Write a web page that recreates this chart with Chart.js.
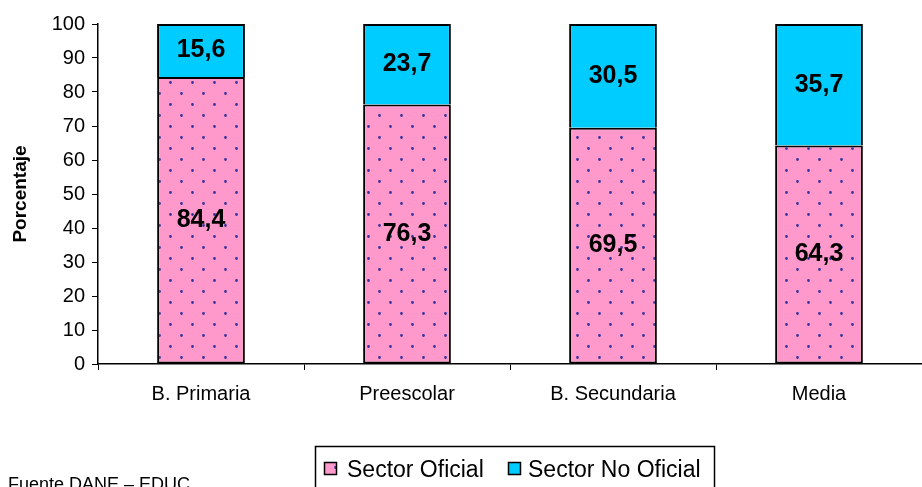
<!DOCTYPE html>
<html>
<head>
<meta charset="utf-8">
<script src="https://cdn.jsdelivr.net/npm/chart.js@4/dist/chart.umd.min.js"></script>
<style>
  body { margin: 0; background: #fff; }
  canvas { display: block; }
</style>
</head>
<body>
<canvas id="myChart" width="922" height="487"></canvas>
<script>
const categories = ['B. Primaria', 'Preescolar', 'B. Secundaria', 'Media']
const sectorOficial = [84.4, 76.3, 69.5, 64.3]
const sectorNoOficial = [15.6, 23.7, 30.5, 35.7]
const seriesNames = ['Sector Oficial', 'Sector No Oficial']
const yMin = 0
const yMax = 100
const yStep = 10

const FONT = '"Liberation Sans", Arial, sans-serif'
const PINK = '#FF99CC'
const CYAN = '#00CCFF'

// dotted pink fill like the excel pattern
function dotPattern (ctx) {
  const c = document.createElement('canvas')
  c.width = 22
  c.height = 22
  const p = c.getContext('2d')
  p.fillStyle = PINK
  p.fillRect(0, 0, 22, 22)
  p.fillStyle = '#333399'
  p.beginPath()
  p.arc(5.5, 5.5, 1.4, 0, Math.PI * 2)
  p.arc(16.5, 16.5, 1.4, 0, Math.PI * 2)
  p.fill()
  return ctx.createPattern(c, 'repeat')
}

const ctx = document.getElementById('myChart').getContext('2d')
const pinkDots = dotPattern(ctx)

const valueLabels = {
  id: 'valueLabels',
  afterDatasetsDraw (chart) {
    const c = chart.ctx
    c.save()
    c.font = 'bold 25px ' + FONT
    c.fillStyle = '#000'
    c.textAlign = 'center'
    c.textBaseline = 'middle'
    chart.data.datasets.forEach((ds, i) => {
      chart.getDatasetMeta(i).data.forEach((bar, j) => {
        const txt = ds.data[j].toFixed(1).replace('.', ',')
        c.fillText(txt, bar.x, (bar.y + bar.base) / 2)
      })
    })
    c.restore()
  }
}

const legendAndSource = {
  id: 'legendAndSource',
  afterDraw (chart) {
    const c = chart.ctx
    c.save()
    // legend box (cut off at bottom like the original)
    c.strokeStyle = '#000'
    c.lineWidth = 1.5
    c.strokeRect(315.5, 446.5, 399, 60)
    c.font = '23px ' + FONT
    c.textBaseline = 'alphabetic'
    const items = [
      { x: 324, tx: 347, fill: pinkDots, text: seriesNames[0] },
      { x: 508, tx: 528, fill: CYAN, text: seriesNames[1] }
    ]
    items.forEach(it => {
      c.fillStyle = it.fill
      c.fillRect(it.x, 462, 12, 12)
      c.lineWidth = 1.5
      c.strokeRect(it.x + 0.5, 462.5, 12, 12)
      c.fillStyle = '#000'
      c.fillText(it.text, it.tx, 477)
    })
    // source note
    c.font = '18px ' + FONT
    c.fillText('Fuente DANE \u2013 EDUC', 8, 490)
    c.restore()
  }
}

new Chart(ctx, {
  type: 'bar',
  data: {
    labels: categories,
    datasets: [
      {
        label: seriesNames[0],
        data: sectorOficial,
        backgroundColor: pinkDots,
        borderColor: '#000',
        borderWidth: 2,
        borderSkipped: false
      },
      {
        label: seriesNames[1],
        data: sectorNoOficial,
        backgroundColor: CYAN,
        borderColor: '#000',
        borderWidth: 2,
        borderSkipped: 'start'
      }
    ]
  },
  options: {
    responsive: false,
    animation: false,
    layout: { padding: { top: 24, right: 0, left: 0, bottom: 0 } },
    datasets: {
      bar: { categoryPercentage: 1, barPercentage: 0.426 }
    },
    plugins: {
      legend: { display: false },
      tooltip: { enabled: false }
    },
    scales: {
      x: {
        stacked: true,
        afterFit: s => { s.height = 123 },
        border: { color: '#000', width: 1.5 },
        grid: { drawOnChartArea: false, color: '#000', tickLength: 6, offset: true },
        ticks: { color: '#000', font: { family: FONT, size: 20 }, padding: 12 }
      },
      y: {
        stacked: true,
        min: yMin,
        max: yMax,
        afterFit: s => { s.width = 98 },
        border: { color: '#000', width: 1.5 },
        grid: { drawOnChartArea: false, color: '#000', tickLength: 6 },
        ticks: { stepSize: yStep, color: '#000', font: { family: FONT, size: 20 }, padding: 7 },
        title: {
          display: true,
          text: 'Porcentaje',
          color: '#000',
          font: { family: FONT, size: 19, weight: 'bold' },
          padding: { top: 9, bottom: 0 }
        }
      }
    }
  },
  plugins: [valueLabels, legendAndSource]
})
</script>
</body>
</html>
